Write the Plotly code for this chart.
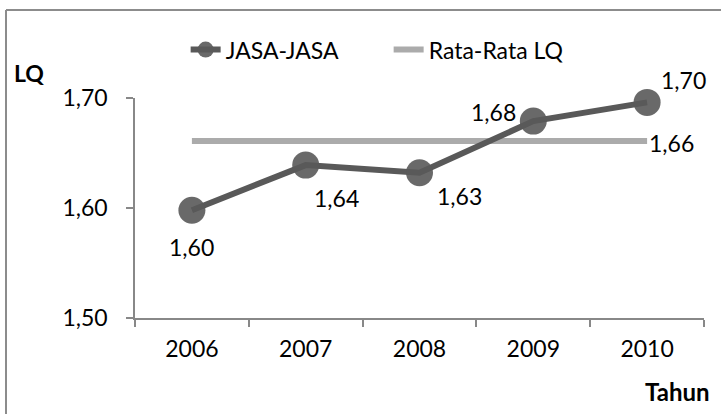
import plotly.graph_objects as go

# Location quotient of the services sector, 2006-2010
years = ["2006", "2007", "2008", "2009", "2010"]
jasa_lq = [1.598, 1.639, 1.632, 1.679, 1.696]
rata_lq = [1.661, 1.661, 1.661, 1.661, 1.661]
y_ticks = [1.50, 1.60, 1.70]

FONT = "Lato"
TXT = "#000000"
AXIS = "#888888"

# label offsets (px) for the value labels of the services series
label_shift = [(0, -37), (31, -33), (40, -23), (-40, 9), (36, 22)]

fig = go.Figure()

fig.add_trace(go.Scatter(
    x=years, y=rata_lq, name="Rata-Rata LQ", mode="lines",
    line=dict(color="#ABABAB", width=6), cliponaxis=False,
))
fig.add_trace(go.Scatter(
    x=years, y=jasa_lq, name="JASA-JASA", mode="lines+markers",
    line=dict(color="#595959", width=6),
    marker=dict(size=27, color="rgba(89,89,89,0.9)", line=dict(width=0)),
    cliponaxis=False,
))


def fmt(v):
    return f"{v:.2f}".replace(".", ",")


annotations = []
# category axis: place labels by category index
for i, (v, (dx, dy)) in enumerate(zip(jasa_lq, label_shift)):
    annotations.append(dict(
        x=i, y=v, xref="x", yref="y", text=fmt(v), showarrow=False,
        xanchor="center", yanchor="middle",
        xshift=dx, yshift=dy, font=dict(family=FONT, size=23, color=TXT),
    ))
annotations.append(dict(
    x=len(years) - 1, y=rata_lq[-1], xref="x", yref="y", text=fmt(rata_lq[-1]),
    showarrow=False, xanchor="left", yanchor="middle", xshift=0, yshift=-2,
    font=dict(family=FONT, size=23, color=TXT),
))
annotations.append(dict(
    x=-0.1863, y=1.1136, xref="paper", yref="paper", text="<b>LQ</b>",
    showarrow=False, xanchor="center", yanchor="middle",
    font=dict(family=FONT, size=23, color=TXT),
))
annotations.append(dict(
    x=1.014, y=-0.336, xref="paper", yref="paper", text="<b>Tahun</b>",
    showarrow=False, xanchor="right", yanchor="middle",
    font=dict(family=FONT, size=24, color=TXT),
))

fig.update_layout(
    width=721, height=414, autosize=False,
    margin=dict(l=135, r=17, t=98, b=96),
    paper_bgcolor="white", plot_bgcolor="white",
    separators=",.",
    font=dict(family=FONT, size=23, color=TXT),
    showlegend=True,
    legend=dict(
        orientation="h", x=0.089, y=1.22, xanchor="left", yanchor="middle",
        traceorder="reversed", entrywidth=158, entrywidthmode="pixels",
        font=dict(family=FONT, size=23, color=TXT), bgcolor="rgba(0,0,0,0)",
    ),
    xaxis=dict(
        type="category", range=[-0.5, 4.5], tickson="boundaries",
        ticks="outside", ticklen=7, tickcolor=AXIS, tickwidth=1.5,
        showline=True, linecolor=AXIS, linewidth=1.5, showgrid=False,
        zeroline=False, ticklabelstandoff=10,
        tickfont=dict(family=FONT, size=23, color=TXT),
    ),
    yaxis=dict(
        range=[1.5, 1.7], tickvals=y_ticks, tickformat=".2f",
        ticks="outside", ticklen=7, tickcolor=AXIS, tickwidth=1.5,
        showline=True, linecolor=AXIS, linewidth=1.5, showgrid=False,
        zeroline=False, ticklabelstandoff=14,
        tickfont=dict(family=FONT, size=23, color=TXT),
    ),
    annotations=annotations,
    shapes=[
        dict(type="line", xref="paper", yref="paper",
             x0=-0.2267, x1=1.05, y0=1.4, y1=1.4,
             line=dict(color="#8C8C8C", width=2)),
        dict(type="line", xref="paper", yref="paper",
             x0=-0.2267, x1=-0.2267, y0=1.4, y1=-0.5,
             line=dict(color="#8C8C8C", width=2)),
    ],
)

fig.write_html("out.html")
